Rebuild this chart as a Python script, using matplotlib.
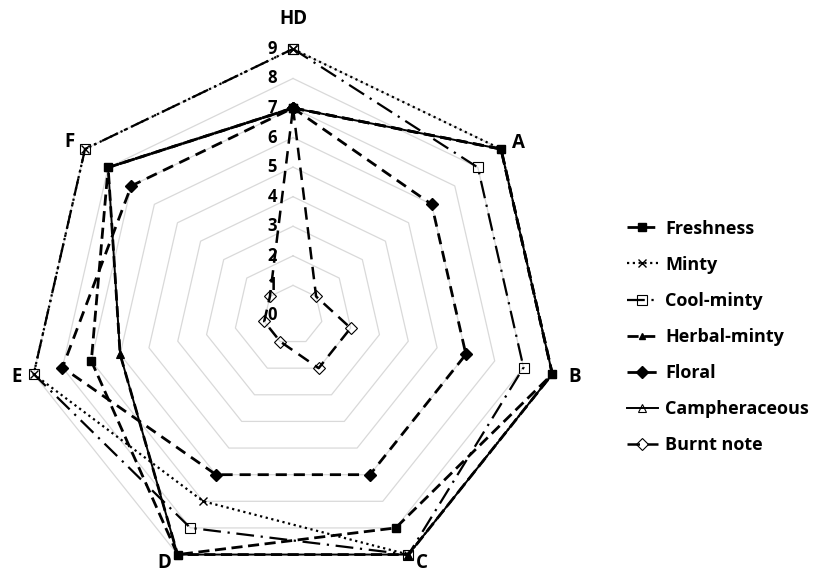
import matplotlib
matplotlib.use("Agg")
import matplotlib.pyplot as plt
import numpy as np

plt.rcParams["font.family"] = ["Open Sans", "DejaVu Sans"]
plt.rcParams["font.weight"] = "bold"

# axes of the radar, clockwise from the top
categories = ["HD", "A", "B", "C", "D", "E", "F"]
rticks = list(range(10))

freshness = [7, 9, 9, 8, 9, 7, 8]
minty = [9, 9, 9, 9, 7, 9, 9]
cool_minty = [9, 8, 8, 9, 8, 9, 9]
herbal_minty = [7, 9, 9, 9, 9, 6, 8]
floral = [7, 6, 6, 6, 6, 8, 7]
campheraceous = [7, 9, 9, 9, 9, 6, 8]
burnt_note = [7, 1, 2, 2, 1, 1, 1]

series = [
    ("Freshness", freshness, dict(ls=(0, (4, 2)), lw=2.0, marker="s", ms=6, mfc="black")),
    ("Minty", minty, dict(ls=(0, (1, 1.6)), lw=1.6, marker="x", ms=6, mew=1.0)),
    ("Cool-minty", cool_minty, dict(ls=(0, (8, 3, 1, 3)), lw=1.6, marker="s", ms=7, mfc="none", mew=0.8)),
    ("Herbal-minty", herbal_minty, dict(ls=(0, (4, 2)), lw=2.0, marker="^", ms=5, mfc="black")),
    ("Floral", floral, dict(ls=(0, (4, 2.5)), lw=2.0, marker="D", ms=6, mfc="black")),
    ("Campheraceous", campheraceous, dict(ls="-", lw=1.4, marker="^", ms=6, mfc="none", mew=0.8)),
    ("Burnt note", burnt_note, dict(ls=(0, (5, 3)), lw=1.8, marker="D", ms=6, mfc="none", mew=0.8)),
]

n = len(categories)
angles = np.linspace(0, 2 * np.pi, n, endpoint=False)
closed = np.append(angles, angles[0])

fig = plt.figure(figsize=(8.21, 5.71), dpi=100)
ax = fig.add_axes([0.0329, -0.0175, 0.648, 0.932], projection="polar")
ax.set_theta_zero_location("N")
ax.set_theta_direction(-1)
ax.set_ylim(0, 9)
ax.grid(False)
ax.spines["polar"].set_visible(False)
ax.set_xticks([])
ax.set_yticks([])
ax.patch.set_alpha(0)

# heptagon grid
for k in rticks[1:]:
    ax.plot(closed, [k] * (n + 1), color="#d9d9d9", lw=0.9, zorder=0, clip_on=False)

for i, (name, vals, style) in enumerate(series):
    v = vals + vals[:1]
    ax.plot(closed, v, color="black", mec="black", label=name, clip_on=False, zorder=2 + i, **style)

# value labels along the HD axis
for t in rticks:
    ax.annotate(str(t), (0, t), xytext=(-21, 0), textcoords="offset pixels",
                ha="center", va="center", fontsize=12, fontweight="bold", annotation_clip=False)

# category labels, offset from the outer ring (C and D sit at the bottom edge)
label_off = [(0, 30), (17, 6), (22, -3), (13, -8), (-13, -8), (-17, -3), (-16, 7)]
for ang, name, off in zip(angles, categories, label_off):
    ax.annotate(name, (ang, 9), xytext=off, textcoords="offset pixels",
                ha="center", va="center", fontsize=13.5, fontweight="bold", annotation_clip=False)

fig.legend(loc="center left", bbox_to_anchor=(0.744, 0.41), frameon=False,
           handlelength=1.7, handletextpad=0.4, labelspacing=1.0,
           prop={"weight": "bold", "size": 13})

fig.savefig("out.png", dpi=100)
